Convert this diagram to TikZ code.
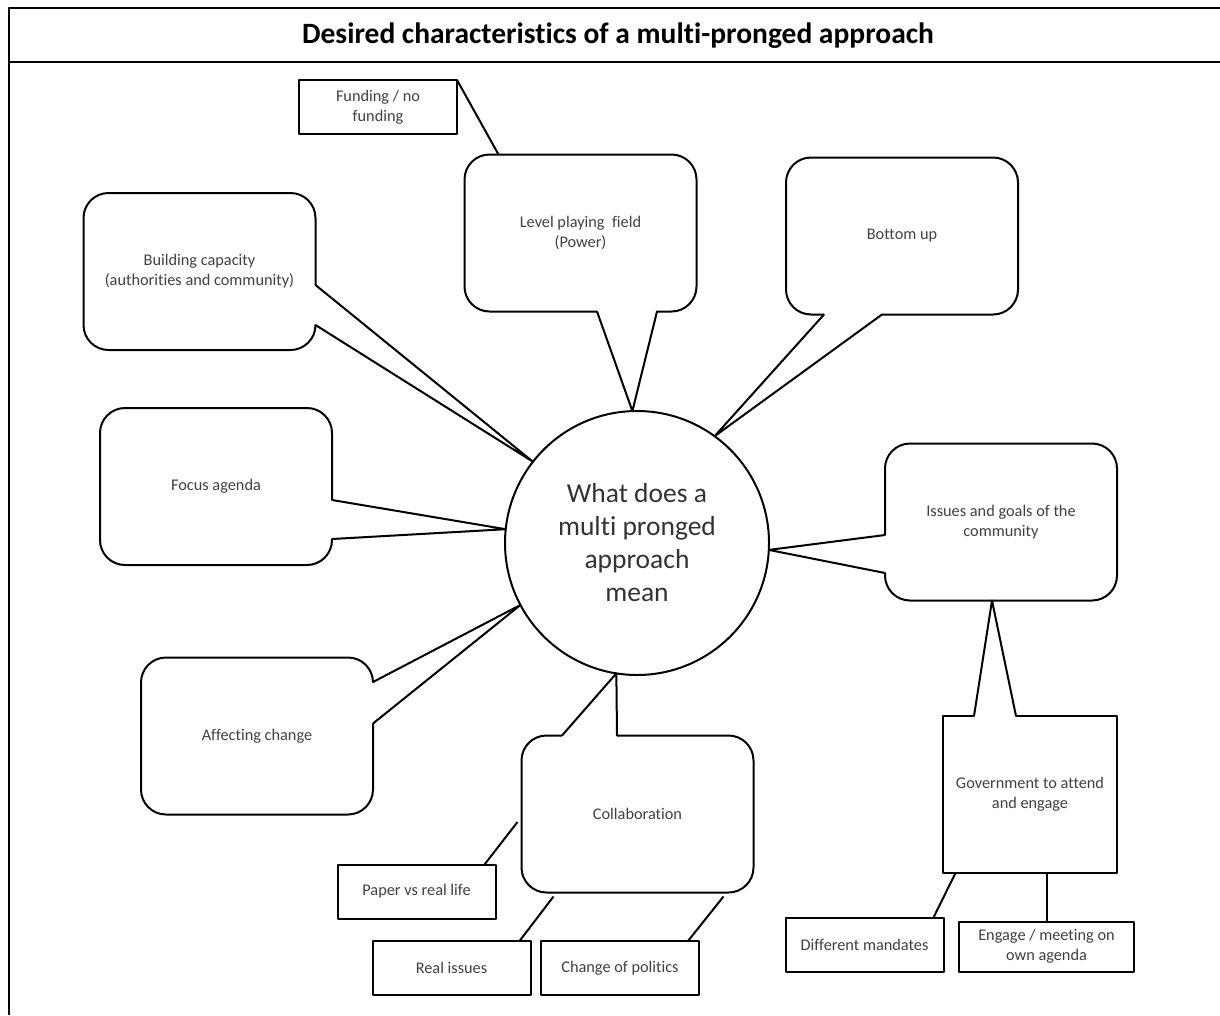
\documentclass[tikz,border=0pt]{standalone}
\usepackage{fontspec}
\setmainfont{Carlito}[Ligatures=CommonOff]
\usetikzlibrary{calc}
\tikzstyle{bubble} = [draw, rounded corners=25pt, outer sep=0pt, minimum width=232pt, minimum height=157pt, align=center, text=black!75, font=\fontsize{16.3}{20}\selectfont]
\tikzstyle{note} = [draw, outer sep=0pt, minimum width=158pt, minimum height=54pt, align=center, text=black!75, font=\fontsize{16.3}{20}\selectfont]

\begin{document}
\begin{tikzpicture}[x=1pt, y=-1pt, line width=2pt, line join=round]
  \useasboundingbox (0,0) rectangle (1220,1015);

  % Frame and title
  \draw (8.5,1015) -- (8.5,8) -- (1220,8);
  \draw (8.5,62) -- (1220,62);
  \node[font=\fontsize{29.5}{35}\selectfont\bfseries] (title) at (618,36) {Desired characteristics of a multi-pronged approach};

  \node[draw, circle, outer sep=0pt, minimum size=264pt, inner sep=0pt, align=center, text=black!80, font=\fontsize{27.5}{33}\selectfont] (hub) at (637,543) {What does a\\multi pronged\\approach\\mean};

  % Bubbles
  \node[bubble] (level) at (580.5,233) {Level playing~~field\\(Power)};
  \node[bubble] (bottomup) at (902,236) {Bottom up};
  \node[bubble] (building) at (199.5,271.5) {Building capacity\\(authorities and community)};
  \node[bubble] (focus) at (216,486.5) {Focus agenda};
  \node[bubble] (affecting) at (257,736) {Affecting change};
  \node[bubble] (issues) at (1001,522) {Issues and goals of the\\community};
  \node[bubble] (collab) at (637.5,814) {Collaboration};
  \node[bubble, sharp corners, minimum width=174pt] (govt) at (1030,794.5) {Government to attend\\and engage};

  % Boxes
  \node[note] (funding) at (378,107) {Funding / no\\funding};
  \node[note] (paper) at (416.5,891.5) {Paper vs real life};
  \node[note] (realissues) at (451.5,968) {Real issues};
  \node[note] (politics) at (620,968) {Change of politics};
  \node[note] (mandates) at (864.5,944.5) {Different mandates};
  \node[note, minimum width=175pt, minimum height=50pt] (engage) at (1046.5,946.5) {Engage / meeting on\\own agenda};

  % Tails
  \coordinate (level-a) at ($(level.south)+(16.5,0)$);
  \coordinate (level-b) at ($(level.south)+(76.5,0)$);
  \coordinate (level-t) at (hub.92);
  \coordinate (bottomup-a) at ($(bottomup.south)+(-78,0)$);
  \coordinate (bottomup-b) at ($(bottomup.south)+(-20,0)$);
  \coordinate (bottomup-t) at (hub.54);
  \coordinate (building-a) at ($(building.east)+(0,13.5)$);
  \coordinate (building-b) at ($(building.east)+(0,53.5)$);
  \coordinate (building-t) at (hub.142);
  \coordinate (focus-a) at ($(focus.east)+(0,13.5)$);
  \coordinate (focus-b) at ($(focus.east)+(0,52.5)$);
  \coordinate (focus-t) at (hub.174);
  \coordinate (affecting-a) at ($(affecting.east)+(0,-54)$);
  \coordinate (affecting-b) at ($(affecting.east)+(0,-12.5)$);
  \coordinate (affecting-t) at (hub.208);
  \coordinate (issues-a) at ($(issues.west)+(0,13)$);
  \coordinate (issues-b) at ($(issues.west)+(0,51)$);
  \coordinate (issues-t) at (hub.357);
  \coordinate (collab-a) at ($(collab.north)+(-75.5,0)$);
  \coordinate (collab-b) at ($(collab.north)+(-20.5,0)$);
  \coordinate (collab-t) at (hub.261);
  \coordinate (govt-a) at ($(govt.north)+(-56,0)$);
  \coordinate (govt-b) at ($(govt.north)+(-14,0)$);
  \coordinate (govt-t) at ($(issues.south)+(-9,0)$);
  \foreach \n in {level, bottomup, building, focus, affecting, issues, collab, govt} {
    \draw[white, line width=3.5pt] (\n-a) -- (\n-b);
    \draw[line cap=round] (\n-a) -- (\n-t) -- (\n-b);
  }

  % Links
  \coordinate (paper-end) at ($(collab.west)+(-4,8)$);
  \draw (funding.north east) -- ($(level.north west)+(34,0)$);
  \draw ($(paper.north east)+(-11,0)$) -- (paper-end);
  \draw ($(realissues.north east)+(-11,0)$) -- ($(collab.south west)+(32,4)$);
  \draw ($(politics.north east)+(-11,0)$) -- ($(collab.south east)+(-30,4)$);
  \draw ($(mandates.north east)+(-10,0)$) -- ($(govt.south west)+(12,1)$);
  \draw (engage.north) -- (engage.north |- govt.south);
\end{tikzpicture}
\end{document}
